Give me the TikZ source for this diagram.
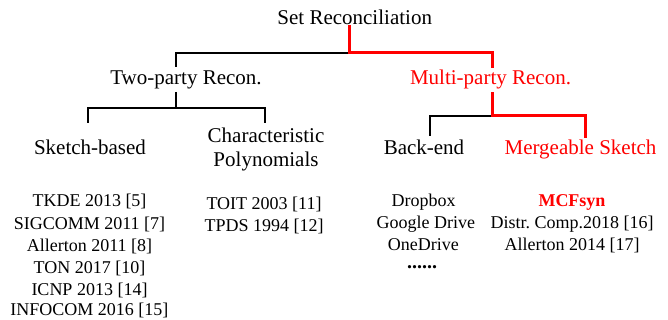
\documentclass[tikz,border=0pt]{standalone}
\usepackage{fontspec}
\setmainfont{Liberation Serif}
\frenchspacing
\begin{document}
\begin{tikzpicture}[x=1pt,y=-1pt,
  big/.style={font=\fontsize{21}{24}\selectfont, anchor=base, inner sep=0pt},
  small/.style={font=\fontsize{18}{21.7}\selectfont, anchor=base, inner sep=0pt},
  blk/.style={line width=2pt, black},
  rd/.style={line width=3pt, red, line cap=rect}]
\useasboundingbox (0,0) rectangle (668,320);
% level 0
\node[big] (root) at (354.7,25) {Set Reconciliation};
% level 1
\node[big] (two) at (186,85) {Two-party Recon.};
\node[big, text=red] (multi) at (490.5,85) {Multi-party Recon.};
% level 2
\node[big] (sk) at (90,155) {Sketch-based};
\node[big] (cp) at (266,143) {Characteristic};
\node[big] (cp2) at (266,167) {Polynomials};
\node[big] (be) at (424,155) {Back-end};
\node[big, text=red] (ms) at (580.5,155) {Mergeable Sketch};
% coordinates
\coordinate (r0) at (349,27);
\coordinate (r1) at (349,53);
\coordinate (t0) at (175.5,53);
\coordinate (t1) at (175.5,67);
\coordinate (m0) at (492,53);
\coordinate (m1) at (492,67);
\coordinate (t2) at (175.5,92);
\coordinate (t3) at (175.5,108);
\coordinate (sa) at (87.7,108);
\coordinate (sb) at (87.7,123);
\coordinate (ca) at (264.5,108);
\coordinate (cb) at (264.5,123);
\coordinate (m2) at (492,94);
\coordinate (m3) at (492,116);
\coordinate (ba) at (430,116);
\coordinate (bb) at (430,136);
\coordinate (ma) at (585,116);
\coordinate (mb) at (585,137);
% connectors
\draw[blk] (t1) -- (t0) -- (r1);
\draw[rd] (r0) -- (r1) -- (m0) -- (m1);
\draw[blk] (t2) -- (t3);
\draw[blk] (sb) -- (sa) -- (ca) -- (cb);
\draw[blk] (bb) -- (ba) -- (m3);
\draw[rd] (m2) -- (m3) -- (ma) -- (mb);
% lists
\node[small] (l1) at (89.5,206.7) {TKDE 2013 [5]};
\node[small] (l2) at (89.5,229) {SIGCOMM 2011 [7]};
\node[small] (l3) at (89.5,251.3) {Allerton 2011 [8]};
\node[small] (l4) at (89.5,273.5) {TON 2017 [10]};
\node[small] (l5) at (89.5,295.5) {ICNP 2013 [14]};
\node[small] (l6) at (89.5,315.5) {INFOCOM 2016 [15]};
\node[small] (c1) at (264,210) {TOIT 2003 [11]};
\node[small] (c2) at (264,231.7) {TPDS 1994 [12]};
\node[small] (b1) at (423.7,206.7) {Dropbox};
\node[small] (b2) at (425.9,228.3) {Google Drive};
\node[small] (b3) at (423.3,250.7) {OneDrive};
\node[small, font=\fontsize{20}{21}\selectfont\bfseries] (b4) at (422,268.3) {......};
\node[small, text=red, font=\fontsize{18}{21}\selectfont\bfseries] (g1) at (572,206.7) {MCFsyn};
\node[small] (g2) at (572,228.3) {Distr. Comp.2018 [16]};
\node[small] (g3) at (572,250.7) {Allerton 2014 [17]};
\end{tikzpicture}
\end{document}
